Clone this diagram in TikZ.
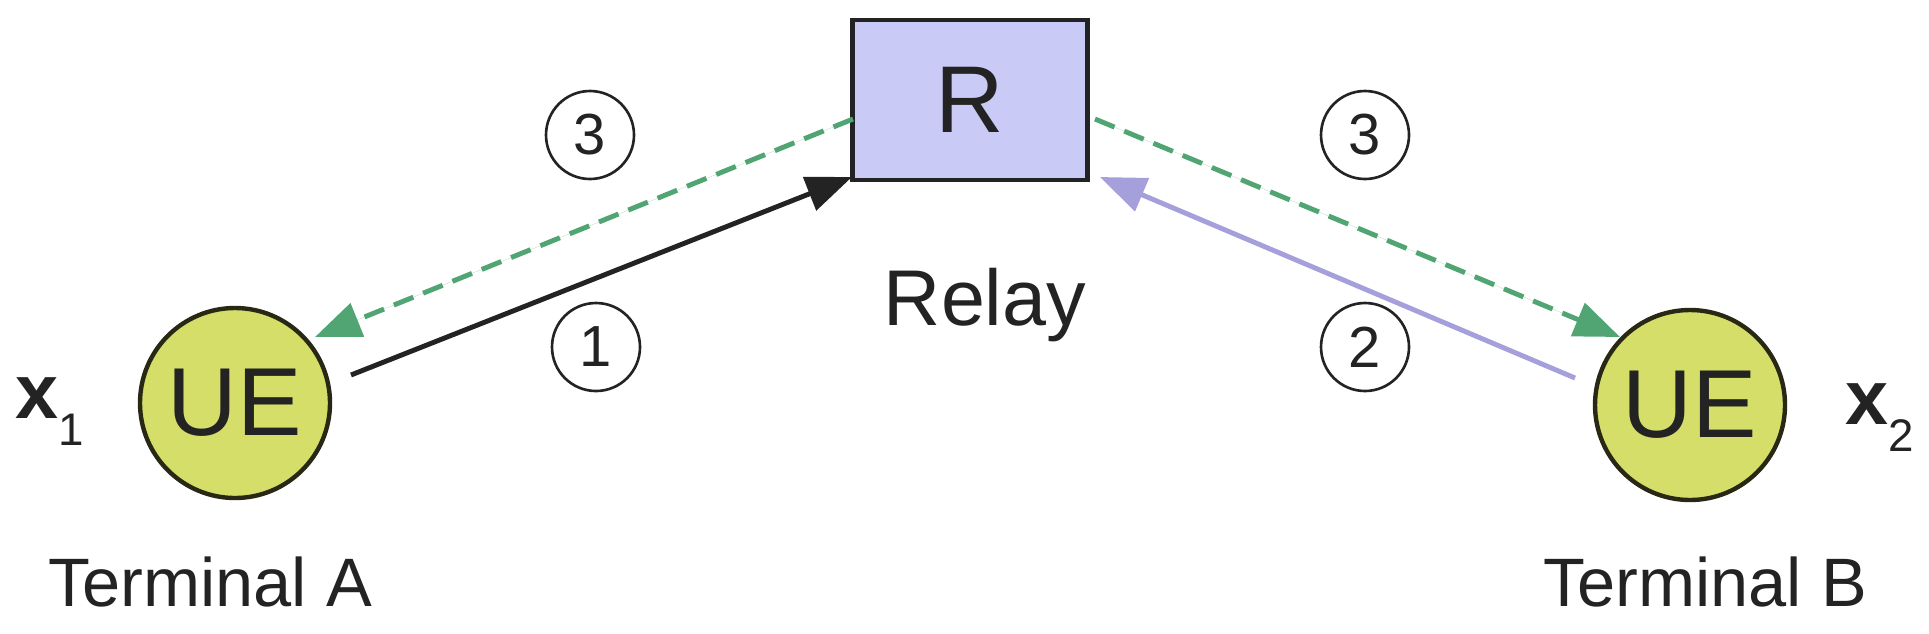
\documentclass[tikz,border=0pt]{standalone}
\usepackage{fontspec}
\setmainfont{Liberation Sans}
\usetikzlibrary{arrows.meta}
\definecolor{ueF}{RGB}{212,222,104}
\definecolor{ueD}{RGB}{40,40,20}
\definecolor{boxF}{RGB}{202,202,246}
\definecolor{grn}{RGB}{80,165,115}
\definecolor{pur}{RGB}{165,160,220}
\definecolor{txt}{RGB}{35,35,35}
\begin{document}
\begin{tikzpicture}[x=0.02cm,y=-0.02cm,
  ue/.style={circle,draw=ueD,line width=2.5pt,fill=ueF,minimum size=190*0.02cm,inner sep=0pt,font=\fontsize{55}{55}\selectfont,text=txt},
  lbl/.style={text=txt,inner sep=0pt},
  num/.style={circle,draw=txt,line width=1.5pt,minimum size=88*0.02cm,inner sep=0pt,font=\fontsize{33}{33}\selectfont,text=txt},
  arr/.style={line width=2.8pt,-{Triangle[length=26pt,width=20pt]}},
  dsh/.style={arr,draw=grn,dash pattern=on 12pt off 6pt,-{Triangle[length=26pt,width=20pt]},fill=grn}]
\useasboundingbox (0,0) rectangle (1929,633);
\node[draw=txt,line width=2.5pt,fill=boxF,minimum width=235*0.02cm,minimum height=160*0.02cm,inner sep=0pt,font=\fontsize{54}{54}\selectfont,text=txt] (R) at (970,100) {R};
\node[lbl,font=\fontsize{45}{45}\selectfont] (relay) at (985,305) {Relay};
\node[ue] (A) at (235,403) {UE};
\node[ue] (B) at (1690,405) {UE};
\node[lbl,font=\fontsize{44}{44}\selectfont] (x1) at (50,412) {\textbf{x}\raisebox{-0.35em}{\fontsize{26}{26}\selectfont 1}};
\node[lbl,font=\fontsize{44}{44}\selectfont] (x2) at (1880,418) {\textbf{x}\raisebox{-0.35em}{\fontsize{26}{26}\selectfont 2}};
\node[lbl,font=\fontsize{39}{39}\selectfont] (tA) at (210,582) {Terminal A};
\node[lbl,font=\fontsize{39}{39}\selectfont] (tB) at (1705,582) {Terminal B};
\node[num] (n3a) at (590,135) {3};
\node[num] (n1) at (596,347) {1};
\node[num] (n3b) at (1365,135) {3};
\node[num] (n2) at (1365,347) {2};
\coordinate (a1) at (351,375); \coordinate (r1) at (852,177);
\coordinate (r2) at (853,119); \coordinate (a2) at (315,337);
\coordinate (b3) at (1575,378); \coordinate (r3) at (1100,177);
\coordinate (r4) at (1095,119); \coordinate (b4) at (1620,337);
\draw[arr,draw=txt,fill=txt] (a1) -- (r1);
\draw[dsh] (r2) -- (a2);
\draw[arr,draw=pur,fill=pur] (b3) -- (r3);
\draw[dsh] (r4) -- (b4);
\end{tikzpicture}
\end{document}
